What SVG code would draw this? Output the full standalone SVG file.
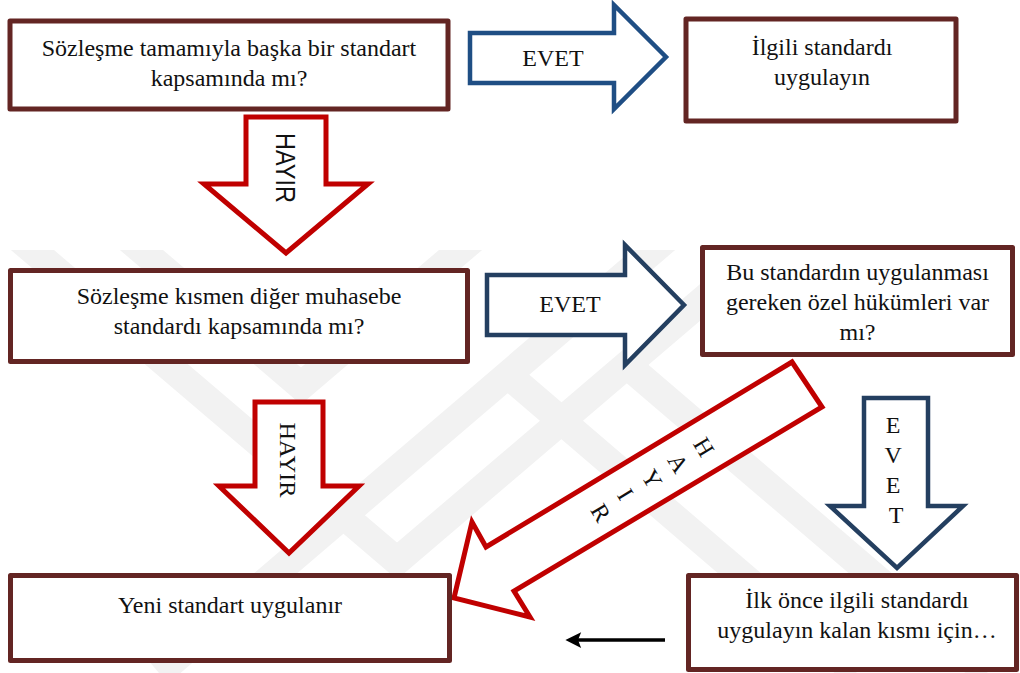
<svg xmlns="http://www.w3.org/2000/svg" width="1020" height="673" viewBox="0 0 1020 673">
  <defs>
    <style>
      .box{fill:#fff;stroke:#632523;stroke-width:5;stroke-linejoin:round}
      .t{font-family:"Liberation Serif","Times New Roman",serif;font-size:24px;fill:#111;text-anchor:middle}
      .lbl{font-size:24px}
      .red{fill:#fff;stroke:#c00000;stroke-width:5;stroke-linejoin:miter}
      .blue{fill:#fff;stroke:#1f4e84;stroke-width:4.5;stroke-linejoin:miter}
      .navy{fill:#fff;stroke:#243f60;stroke-width:4.5;stroke-linejoin:miter}
      .wm{fill:none;stroke:#f2f2f2;stroke-width:28;stroke-linejoin:miter}
    </style>
    <clipPath id="wmclip"><rect x="0" y="250" width="1020" height="423"/></clipPath>
    <marker id="ah" viewBox="0 0 10 10" refX="2" refY="5" markerWidth="5" markerHeight="4.5" orient="auto" markerUnits="strokeWidth">
      <path d="M0,0 L10,5 L0,10 L2,5 z" fill="#000"/>
    </marker>
  </defs>

  <rect width="1020" height="673" fill="#fff"/>

  <!-- faint background emblem -->
  <g id="watermark" class="wm" clip-path="url(#wmclip)">
    <polyline points="118,230 301,386 484,230"/>
    <polyline points="9,230 397,561 785,230"/>
    <line x1="677" y1="230" x2="159" y2="673"/>
    <line x1="508" y1="375" x2="856" y2="673"/>
    <line x1="627" y1="365" x2="987" y2="673"/>
  </g>

  <!-- block arrows and plain connector -->
  <g id="connectors">
    <g id="arrow-evet-1">
      <polygon class="blue" points="470,33 614,33 614,5 666,57 614,109 614,83 470,83"/>
      <text class="t lbl" x="553" y="66">EVET</text>
    </g>
    <g id="arrow-hayir-1">
      <polygon class="red" points="246,117 326,117 326,184 368,184 286,253 204,184 246,184"/>
      <text transform="translate(286,168) rotate(90)" x="0" y="10" font-family="Liberation Sans, Arial, sans-serif" font-size="28" fill="#111" text-anchor="middle" textLength="70" lengthAdjust="spacingAndGlyphs">HAYIR</text>
    </g>
    <g id="arrow-evet-2">
      <polygon class="navy" points="487,275 625,275 625,245 684,305 625,365 625,335 487,335"/>
      <text class="t lbl" x="570" y="312">EVET</text>
    </g>
    <g id="arrow-hayir-2">
      <polygon class="red" points="255,402 323,402 323,486 359,486 289,553 219,486 255,486"/>
      <text class="t" transform="translate(289,460) rotate(90)" x="0" y="9.3" font-size="28" textLength="75" lengthAdjust="spacingAndGlyphs">HAYIR</text>
    </g>
    <g id="arrow-hayir-3">
      <polygon class="red" points="792,362 822,407 514,591 530,617 454,598 472,522 486,547"/>
      <g transform="translate(652.5,481.5) rotate(58.9)">
        <text class="t" font-size="22">
          <tspan x="0" y="-53.9">H</tspan>
          <tspan x="0" y="-23.3">A</tspan>
          <tspan x="0" y="7.3">Y</tspan>
          <tspan x="0" y="37.9">I</tspan>
          <tspan x="0" y="68.5">R</tspan>
        </text>
      </g>
    </g>
    <g id="arrow-evet-3">
      <polygon class="navy" points="864,398 928,398 928,506 963,506 897,568 830,506 864,506"/>
      <text class="t lbl">
        <tspan x="896" y="433">E</tspan>
        <tspan x="896" y="463">V</tspan>
        <tspan x="896" y="493">E</tspan>
        <tspan x="896" y="523">T</tspan>
      </text>
    </g>
    <line id="link-remaining" x1="665" y1="640" x2="578" y2="640" stroke="#000" stroke-width="3.5" marker-end="url(#ah)"/>
  </g>

  <!-- decision and action boxes -->
  <g id="node-tamamen">
    <rect class="box" x="10" y="21" width="438" height="88"/>
    <text class="t"><tspan x="229" y="56">Sözleşme tamamıyla başka bir standart</tspan><tspan x="229" y="86">kapsamında mı?</tspan></text>
  </g>
  <g id="node-ilgili">
    <rect class="box" x="686" y="19" width="270" height="102"/>
    <text class="t"><tspan x="822" y="55">İlgili standardı</tspan><tspan x="822" y="85">uygulayın</tspan></text>
  </g>
  <g id="node-kismen">
    <rect class="box" x="10.5" y="270.5" width="457" height="91"/>
    <text class="t"><tspan x="239" y="304">Sözleşme kısmen diğer muhasebe</tspan><tspan x="239" y="334">standardı kapsamında mı?</tspan></text>
  </g>
  <g id="node-ozel">
    <rect class="box" x="702.5" y="247.5" width="310" height="107"/>
    <text class="t"><tspan x="857.5" y="280">Bu standardın uygulanması</tspan><tspan x="857.5" y="310">gereken özel hükümleri var</tspan><tspan x="857.5" y="340">mı?</tspan></text>
  </g>
  <g id="node-yeni">
    <rect class="box" x="10.5" y="575.5" width="439" height="85"/>
    <text class="t" x="230" y="613">Yeni standart uygulanır</text>
  </g>
  <g id="node-ilk-once">
    <rect class="box" x="688.5" y="575.5" width="328" height="94"/>
    <text class="t"><tspan x="857" y="608">İlk önce ilgili standardı</tspan><tspan x="857" y="638">uygulayın kalan kısmı için…</tspan></text>
  </g>
</svg>
